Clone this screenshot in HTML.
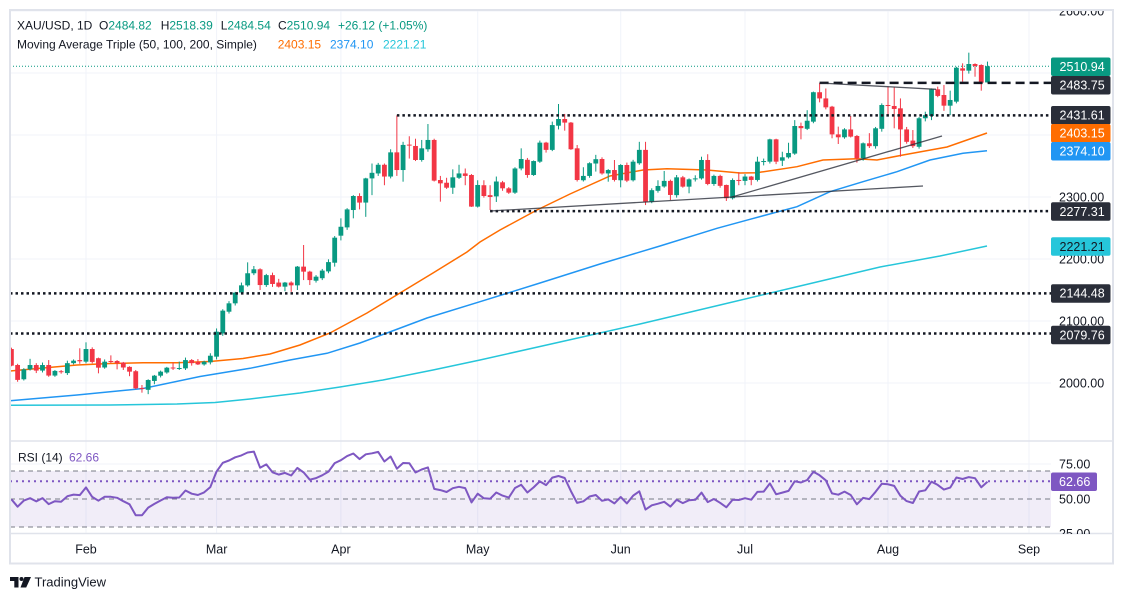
<!DOCTYPE html>
<html><head><meta charset="utf-8">
<style>
html,body{margin:0;padding:0;background:#fff;}
svg{display:block;font-family:"Liberation Sans",Arial,sans-serif;}
</style></head>
<body>
<svg id="c" width="1123" height="601" viewBox="0 0 1123 601" xmlns="http://www.w3.org/2000/svg">
<defs>
<clipPath id="mainclip"><rect x="10" y="10" width="1041" height="431"/></clipPath>
<clipPath id="rsiclip"><rect x="10" y="441" width="1041" height="92"/></clipPath>
<clipPath id="axclip"><rect x="1051" y="10" width="62" height="431"/></clipPath>
<clipPath id="raxclip"><rect x="1051" y="441" width="62" height="93"/></clipPath>
</defs>
<rect width="1123" height="601" fill="#fff"/>

<!-- grid -->
<g stroke="#f0f3fa" stroke-width="1">
  <line x1="10" x2="1051" y1="11" y2="11"/>
  <line x1="10" x2="1051" y1="73" y2="73"/>
  <line x1="10" x2="1051" y1="135" y2="135"/>
  <line x1="10" x2="1051" y1="197" y2="197"/>
  <line x1="10" x2="1051" y1="259" y2="259"/>
  <line x1="10" x2="1051" y1="321" y2="321"/>
  <line x1="10" x2="1051" y1="383" y2="383"/>
  <line x1="10" x2="1051" y1="464" y2="464"/>
  <line x1="86" x2="86" y1="10" y2="533"/>
  <line x1="216.6" x2="216.6" y1="10" y2="533"/>
  <line x1="340.9" x2="340.9" y1="10" y2="533"/>
  <line x1="477.7" x2="477.7" y1="10" y2="533"/>
  <line x1="620.7" x2="620.7" y1="10" y2="533"/>
  <line x1="745" x2="745" y1="10" y2="533"/>
  <line x1="888" x2="888" y1="10" y2="533"/>
  <line x1="1029" x2="1029" y1="10" y2="533"/>
</g>

<!-- RSI band -->
<rect x="10" y="471" width="1041" height="56" fill="#7e57c2" fill-opacity="0.11"/>
<g stroke="#787b86" stroke-width="1" stroke-dasharray="5 4">
  <line x1="10" x2="1051" y1="471" y2="471"/>
  <line x1="10" x2="1051" y1="499" y2="499"/>
  <line x1="10" x2="1051" y1="527" y2="527"/>
</g>
<line x1="10" x2="1051" y1="481.3" y2="481.3" stroke="#7e57c2" stroke-width="2" stroke-dasharray="2 4"/>
<g id="rsi" clip-path="url(#rsiclip)"></g>

<!-- pane separators -->
<line x1="10" x2="1113" y1="441" y2="441" stroke="#e0e3eb" stroke-width="1.5"/>
<line x1="10" x2="1113" y1="533.5" y2="533.5" stroke="#e0e3eb" stroke-width="1.5"/>

<g clip-path="url(#mainclip)">
  <!-- moving averages -->
  <polyline fill="none" stroke="#26c6da" stroke-width="1.5" points="10,405.3 110,405 177,404 215,402.5 250,399 300,393 340,387 383,380 433,370 480,360 560,342 640,324 720,305 800,286 880,267 940,256 987,246"/>
  <polyline fill="none" stroke="#2196f3" stroke-width="1.5" points="10,400.7 77,395 143,388.5 200,376.5 250,368.3 290,360 327,353.3 360,343 387,333 427,318 480,301.7 540,283 600,264 660,246 717,228.3 750,219.3 797,206.7 830,191.7 863,181.7 897,171.7 930,160 963,153.3 987,150.7"/>
  <polyline fill="none" stroke="#ff6d00" stroke-width="1.5" points="10,371 43,368 77,365 110,363.5 143,362.7 177,362.7 210,361.5 243,358.5 270,354 300,345 330,333 367,313 400,293 433,273 467,252 480,242 500,230 537,210 570,194 610,176 643,170 667,168.7 707,170 740,173 757,172.7 797,166.7 823,160 857,158.7 877,160 903,155 947,147 987,133"/>

  <!-- current price line -->
  <line x1="10" x2="1051" y1="66.2" y2="66.2" stroke="#089981" stroke-width="1" stroke-dasharray="1 2"/>

  <g id="candles"></g>

  <!-- horizontal drawings -->
  <g stroke="#131722" stroke-width="2.5" stroke-dasharray="2.5 3">
    <line x1="396.9" x2="1051" y1="115.4" y2="115.4"/>
    <line x1="490.1" x2="1051" y1="211.1" y2="211.1"/>
    <line x1="10" x2="1051" y1="293.4" y2="293.4"/>
    <line x1="10" x2="1051" y1="333.5" y2="333.5"/>
  </g>
  <line x1="819.6" x2="1051" y1="82.9" y2="82.9" stroke="#131722" stroke-width="2.5" stroke-dasharray="9 5"/>

  <!-- trendlines -->
  <g stroke="#2a2e39" stroke-opacity="0.8" stroke-width="1.3">
    <line x1="490.1" y1="211" x2="923" y2="186"/>
    <line x1="732" y1="197" x2="942" y2="136"/>
    <line x1="819.6" y1="83" x2="936" y2="89.3"/>
  </g>
</g>

<!-- legend -->
<g font-size="12" fill="#131722">
  <text x="17" y="29.5">XAU/USD, 1D</text>
  <text x="99" y="29.5">O<tspan fill="#089981">2484.82</tspan></text>
  <text x="160.7" y="29.5">H<tspan fill="#089981">2518.39</tspan></text>
  <text x="220.7" y="29.5">L<tspan fill="#089981">2484.54</tspan></text>
  <text x="278" y="29.5">C<tspan fill="#089981">2510.94</tspan></text>
  <text x="338" y="29.5" fill="#089981">+26.12 (+1.05%)</text>
  <text x="17" y="48.5">Moving Average Triple (50, 100, 200, Simple)</text>
  <text x="277.7" y="48.5" fill="#ff6d00">2403.15</text>
  <text x="330" y="48.5" fill="#2196f3">2374.10</text>
  <text x="383" y="48.5" fill="#26c6da">2221.21</text>
  <text x="18" y="461.5">RSI (14)</text>
  <text x="69" y="461.5" fill="#7e57c2">62.66</text>
</g>

<!-- price axis -->
<g clip-path="url(#axclip)" font-size="12.5" fill="#131722">
  <text x="1059" y="15.5">2600.00</text>
  <text x="1059" y="77.5">2500.00</text>
  <text x="1059" y="139.5">2400.00</text>
  <text x="1059" y="201.5">2300.00</text>
  <text x="1059" y="263.5">2200.00</text>
  <text x="1059" y="325.5">2100.00</text>
  <text x="1059" y="387.5">2000.00</text>
  <g font-size="12.5">
    <rect x="1051" y="57.5" width="59.5" height="18.5" rx="2" fill="#089981"/>
    <text x="1059.5" y="71" fill="#fff">2510.94</text>
    <rect x="1051" y="76" width="59.5" height="18.5" rx="2" fill="#2a2e39"/>
    <text x="1059.5" y="89.5" fill="#fff">2483.75</text>
    <rect x="1051" y="106" width="59.5" height="18.5" rx="2" fill="#2a2e39"/>
    <text x="1059.5" y="119.5" fill="#fff">2431.61</text>
    <rect x="1051" y="124" width="59.5" height="18.5" rx="2" fill="#ff6d00"/>
    <text x="1059.5" y="137.5" fill="#fff">2403.15</text>
    <rect x="1051" y="142" width="59.5" height="18.5" rx="2" fill="#2196f3"/>
    <text x="1059.5" y="155.5" fill="#fff">2374.10</text>
    <rect x="1051" y="202.3" width="59.5" height="18.5" rx="2" fill="#2a2e39"/>
    <text x="1059.5" y="215.8" fill="#fff">2277.31</text>
    <rect x="1051" y="237.3" width="59.5" height="18.5" rx="2" fill="#26c6da"/>
    <text x="1059.5" y="250.8" fill="#131722">2221.21</text>
    <rect x="1051" y="284.2" width="59.5" height="18.5" rx="2" fill="#2a2e39"/>
    <text x="1059.5" y="297.7" fill="#fff">2144.48</text>
    <rect x="1051" y="325.8" width="59.5" height="18.5" rx="2" fill="#2a2e39"/>
    <text x="1059.5" y="339.3" fill="#fff">2079.76</text>
  </g>
</g>

<!-- RSI axis -->
<g clip-path="url(#raxclip)" font-size="12.5" fill="#131722">
  <text x="1059" y="468.5">75.00</text>
  <text x="1059" y="503.5">50.00</text>
  <text x="1059" y="538">25.00</text>
  <rect x="1051" y="472.5" width="46" height="18.5" rx="2" fill="#7e57c2"/>
  <text x="1059" y="486" fill="#fff">62.66</text>
</g>

<!-- time axis -->
<g font-size="12.5" fill="#131722" text-anchor="middle">
  <text x="86" y="553.5">Feb</text>
  <text x="216.6" y="553.5">Mar</text>
  <text x="340.9" y="553.5">Apr</text>
  <text x="477.7" y="553.5">May</text>
  <text x="620.7" y="553.5">Jun</text>
  <text x="745" y="553.5">Jul</text>
  <text x="888" y="553.5">Aug</text>
  <text x="1029" y="553.5">Sep</text>
</g>

<!-- frame -->
<rect x="10" y="10" width="1103" height="553.5" fill="none" stroke="#e0e3eb" stroke-width="2"/>

<!-- TradingView logo -->
<g fill="#131722">
  <rect x="10" y="577" width="8.5" height="4"/>
  <rect x="14.3" y="577" width="4.2" height="10.5"/>
  <circle cx="21.5" cy="579" r="2"/>
  <polygon points="24.5,577 31,577 26.2,587.5 20.5,587.5"/>
  <text x="34.5" y="586.5" font-size="13">TradingView</text>
</g>
</svg>
<script>
(function(){
var D=[
[2054.8,2057,2027,2028],[2029,2031,2002,2005],[2006,2024,2004,2022],[2022,2039,2020,2029],[2029,2032,2016,2020],
[2020,2033,2017,2029],[2029,2037,2010,2012],[2012,2021,2010,2019.5],[2019,2021,2015,2018],[2016,2036,2013,2032],
[2032,2038,2030,2036],[2037,2056,2031,2035],[2034.4,2065.6,2031.7,2054.8],[2054.8,2057.5,2031.7,2034],[2040,2041,2015.6,2024.7],
[2025,2038,2023,2034.4],[2035.5,2044.6,2032,2034],[2035.5,2037,2022,2032],[2033,2034,2021,2025],[2026,2027,2011,2018.3],
[2019,2021,1990,1991.4],[1992,1996.8,1984.4,1991.4],[1989,2006,1982,2004.8],[2003.3,2013,1998,2011.8],[2011.8,2020,2009,2018.3],
[2017,2026,2015,2024.7],[2025,2033,2021,2023.6],[2023.6,2034.5,2021,2024.2],[2023.6,2041,2021,2037],[2037,2038.6,2028,2032],
[2034,2038.6,2029,2030],[2030,2036,2028,2034.4],[2033.3,2048,2030,2044],[2042.5,2088,2038,2082.8],[2080,2119,2076,2116.7],
[2115,2132,2112,2128.5],[2128.5,2147,2125,2145.7],[2146,2162,2143,2157.5],[2157.5,2194.6,2155.4,2177],[2177,2188.7,2174,2183.4],
[2183.4,2185,2150,2158],[2158,2176,2155,2174],[2174,2178,2155,2159.7],[2162,2168,2154,2155.4],[2155.4,2163,2148,2162],
[2162,2164,2147,2157.5],[2157.5,2188.7,2150,2187.7],[2187.7,2222.6,2166,2179.6],[2179.6,2181,2158,2166],[2165,2174,2162,2171.5],
[2169,2184,2166,2181.3],[2180,2199.5,2177,2195],[2194,2237,2187.7,2234.4],[2237.6,2265.6,2230,2252],[2251,2282,2247,2280],
[2279,2303,2265.6,2301.6],[2301.6,2306,2280,2291],[2291,2331,2268,2330],[2330,2354,2303,2339],[2338,2355,2334,2352],
[2352,2354,2319,2333],[2333,2377,2330,2372],[2372,2431.6,2334,2343.5],[2343.5,2389,2324.7,2384],[2384.5,2398,2362,2383.5],
[2382.3,2394,2358,2359.7],[2359.7,2392,2357,2378.5],[2377,2417.7,2373,2392],[2392,2394,2325,2326.4],[2327.4,2334,2292.5,2322],
[2323,2331,2313,2315],[2315,2344.6,2305,2331.7],[2331,2352,2329,2338],[2338,2346,2319,2334],[2335.5,2337,2284,2284.5],
[2284.5,2327,2283,2319.4],[2319,2327,2299,2301.6],[2303,2319,2279,2300],[2301,2333,2292,2325],[2323.7,2326,2310,2314],
[2314,2316,2305,2307],[2307,2348,2305,2346],[2346,2378.5,2343,2361.3],[2360,2363,2331,2335.5],[2335.5,2359,2334,2358],
[2357,2391,2355,2387.7],[2387.7,2389,2371.6,2376],[2376,2421.6,2374,2416],[2415,2450,2409,2425.8],[2425.8,2434,2407,2420],
[2420,2421,2376,2377],[2378.5,2383.9,2325,2327.4],[2327,2348,2325,2334],[2334,2356,2331,2354.5],[2354,2368,2341,2361],
[2361.3,2364,2336,2338],[2338,2345,2324.7,2343.5],[2343.5,2359.7,2325,2327.5],[2327,2353,2315.6,2351.6],[2351.6,2355.5,2324,2326.4],
[2327,2360,2325,2357],[2354.4,2389,2352,2376],[2376,2389,2287,2292.5],[2292.5,2314,2290,2311],[2310,2327,2307,2317.8],
[2317,2342,2315,2326],[2326,2328,2295,2303.3],[2303,2335.5,2299,2331.7],[2331.7,2334,2315,2316.7],[2316.7,2330,2306,2328.5],
[2329.5,2335,2325,2330],[2330,2365,2328,2359.7],[2359.7,2369,2319,2321],[2321,2336,2318,2334],[2334,2336,2315,2318],
[2319.4,2320,2293.6,2298],[2298,2330,2296,2327.4],[2327.5,2340,2319,2326],[2326,2337,2319,2333],[2333,2334,2319,2327.5],
[2327.5,2365,2325,2357],[2357.5,2362,2351,2358],[2357,2394,2354,2393],[2393,2394,2353,2357],[2358.6,2373,2350,2364],
[2364,2387.5,2362,2371],[2370,2424,2368,2414.5],[2414.5,2420,2393,2411],[2410,2440,2408,2423],[2421.5,2470,2419,2469],
[2469,2483.75,2452.7,2459],[2459,2475,2441.4,2444.6],[2445.7,2447,2394.7,2401],[2401,2413.5,2385.5,2396.3],[2396.3,2411,2394,2409],
[2409,2430.7,2396,2397.4],[2398.4,2400,2355.4,2362.4],[2362.4,2388,2358.6,2386.6],[2386.6,2403,2379,2382],[2382,2413,2378,2410.8],
[2410,2451,2405.4,2448.4],[2448.4,2478,2432,2446.8],[2446.8,2477,2410.8,2442],[2443,2459,2365,2409],[2409,2413,2386,2389],
[2391,2408,2379,2382],[2381,2429,2378,2427],[2427,2437.6,2422,2432],[2430.7,2475,2424,2473.7],[2473.7,2478,2461,2463],
[2464.5,2480.6,2439,2447.3],[2447.3,2471.5,2432,2456.5],[2453.8,2510,2451,2508.6],[2507.5,2515.6,2486,2503.8],[2503.8,2532.8,2499,2514.5],
[2514.5,2515.6,2494,2511.3],[2512.9,2514,2471.5,2484.4],[2484.82,2518.39,2484.54,2510.94]
];
var NS="http://www.w3.org/2000/svg";
function el(tag,a,p){var e=document.createElementNS(NS,tag);for(var k in a)e.setAttribute(k,a[k]);p.appendChild(e);return e;}
function X(i){return 11.4+i*6.217;}
function Y(p){return 383-(p-2000)*0.62;}
var g=document.getElementById('candles');
D.forEach(function(d,i){
  var o=d[0],h=d[1],l=d[2],c=d[3];
  var col=c>=o?'#089981':'#f23645';
  var x=X(i);
  el('line',{x1:x,x2:x,y1:Y(h),y2:Y(l),stroke:col,'stroke-width':1},g);
  var yt=Y(Math.max(o,c)),yb=Y(Math.min(o,c));
  el('rect',{x:x-2.4,y:yt,width:4.8,height:Math.max(1,yb-yt),fill:col},g);
});
var ag=8,al=6,prev=2054.8,pts=[];
D.forEach(function(d,i){
  var ch=d[3]-prev;prev=d[3];
  var gn=Math.max(ch,0),ls=Math.max(-ch,0);
  ag=(ag*13+gn)/14;al=(al*13+ls)/14;
  var r=100-100/(1+ag/al);
  pts.push(X(i).toFixed(1)+','+(499-(r-50)*1.4).toFixed(1));
});
el('polyline',{points:pts.join(' '),fill:'none',stroke:'#7e57c2','stroke-width':2,'stroke-linejoin':'round'},document.getElementById('rsi'));
})();
</script>
</body></html>
